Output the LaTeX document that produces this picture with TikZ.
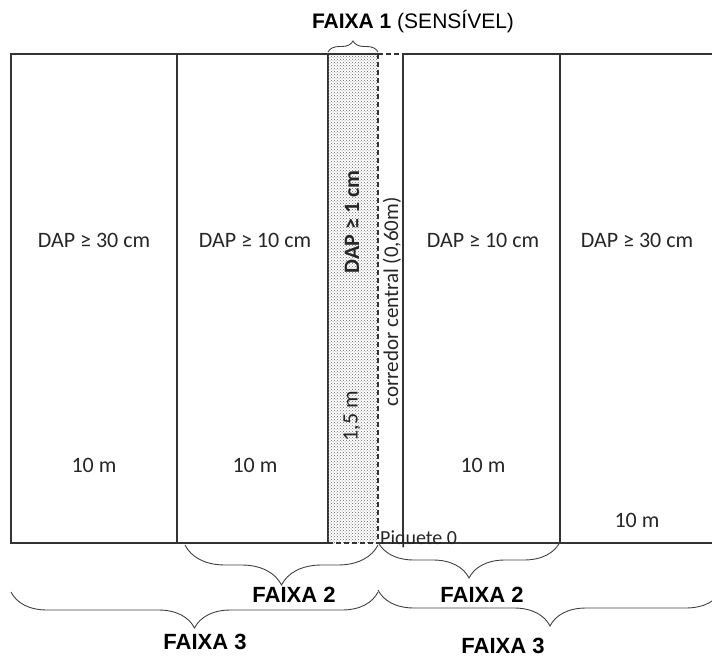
\documentclass[tikz,border=0pt]{standalone}
\usepackage{fontspec}
\setmainfont{Carlito}
\newfontfamily\headfont{Liberation Sans}
\usetikzlibrary{decorations.pathreplacing, patterns, calc}

\begin{document}
\begin{tikzpicture}[
    x=1pt, y=-1pt,
    panel/.style={draw=black!80, line width=1.2pt, minimum height=489pt, inner sep=0pt, outer sep=0pt},
    edge/.style={draw=black!80, line width=1.2pt},
    dashedge/.style={edge, dash pattern=on 5pt off 3pt},
    txt/.style={font=\fontsize{22}{24}\selectfont, text=black!85},
    vtxt/.style={txt, rotate=90},
    faixa/.style={font=\headfont\bfseries\fontsize{22}{24}\selectfont},
    brace/.style={decorate, decoration={brace, amplitude=#1, mirror}, draw=black!75, line width=0.9pt},
]
\useasboundingbox (0,0) rectangle (712,658);

% Panels
\node[panel, minimum width=166pt] (p1) at (94,298.5) {};
\node[panel, minimum width=151pt] (p2) at (252.5,298.5) {};
\node[panel, minimum width=157pt] (p3) at (481.5,298.5) {};
\node[minimum width=50pt, minimum height=489pt, inner sep=0pt, outer sep=0pt,
      pattern=crosshatch dots, pattern color=black!60] (strip) at (353,298.5) {};
\coordinate (re) at (712,54);
\coordinate (rb) at (712,543);

% Strip and corridor borders
\draw[edge] (strip.north west) -- (strip.north east);
\draw[dashedge] (strip.north east) -- (p3.north west);
\draw[dashedge] (strip.north east) -- (strip.south east);
\draw[dashedge] (strip.south west) -- (strip.south east);
\draw[edge] (strip.south east) -- (p3.south west);
\draw[edge] (p3.north east) -- (re);
\draw[edge] (p3.south east) -- (rb);

% Labels in the panels
\node[txt] (d1) at (94,240) {DAP ≥ 30 cm};
\node[txt] (d2) at (255,240) {DAP ≥ 10 cm};
\node[txt] (d3) at (483,240) {DAP ≥ 10 cm};
\node[txt] (d4) at (637,240) {DAP ≥ 30 cm};
\node[txt] (m1) at (94,465) {10 m};
\node[txt] (m2) at (255,465) {10 m};
\node[txt] (m3) at (483,465) {10 m};
\node[txt] (m4) at (637,520) {10 m};

% Rotated labels in the strip and corridor
\node[vtxt, font=\bfseries\fontsize{22}{24}\selectfont] (d0) at (352,222) {DAP ≥ 1 cm};
\node[vtxt] (s0) at (352,416) {1,5 m};
\node[vtxt, font=\fontsize{21}{23}\selectfont] (cor) at (392,302) {corredor central (0,60m)};
\node[txt, anchor=west, font=\fontsize{20}{22}\selectfont, inner sep=0pt] (piq) at (380,539) {Piquete 0};

% Faixa 1 on top
\draw[decorate, decoration={brace, amplitude=11pt}, draw=black!75, line width=0.9pt]
    ($(strip.north west)+(0,-2)$) -- ($(strip.north east)+(0,-2)$);
\node[font=\headfont\fontsize{21}{23}\selectfont] (f1) at (413,22) {\textbf{FAIXA 1} (SENSÍVEL)};

% Braces below
\draw[brace=40pt] ($(p2.south west)+(8,2)$) -- ($(strip.south east)+(0,2)$);
\node[faixa] (f2a) at (294,595) {FAIXA 2};
\draw[brace=36pt] ($(strip.south east)+(0,-1)$) -- ($(p3.south east)+(0,-1)$);
\node[faixa] (f2b) at (482,595) {FAIXA 2};
\draw[brace=36pt] ($(p1.south west)+(0,49)$) -- ($(strip.south east)+(0,49)$);
\node[faixa] (f3a) at (205,642) {FAIXA 3};
\draw[brace=36pt] ($(strip.south east)+(0,47)$) -- ($(rb)+(10,47)$);
\node[faixa] (f3b) at (503,646) {FAIXA 3};
\end{tikzpicture}
\end{document}
